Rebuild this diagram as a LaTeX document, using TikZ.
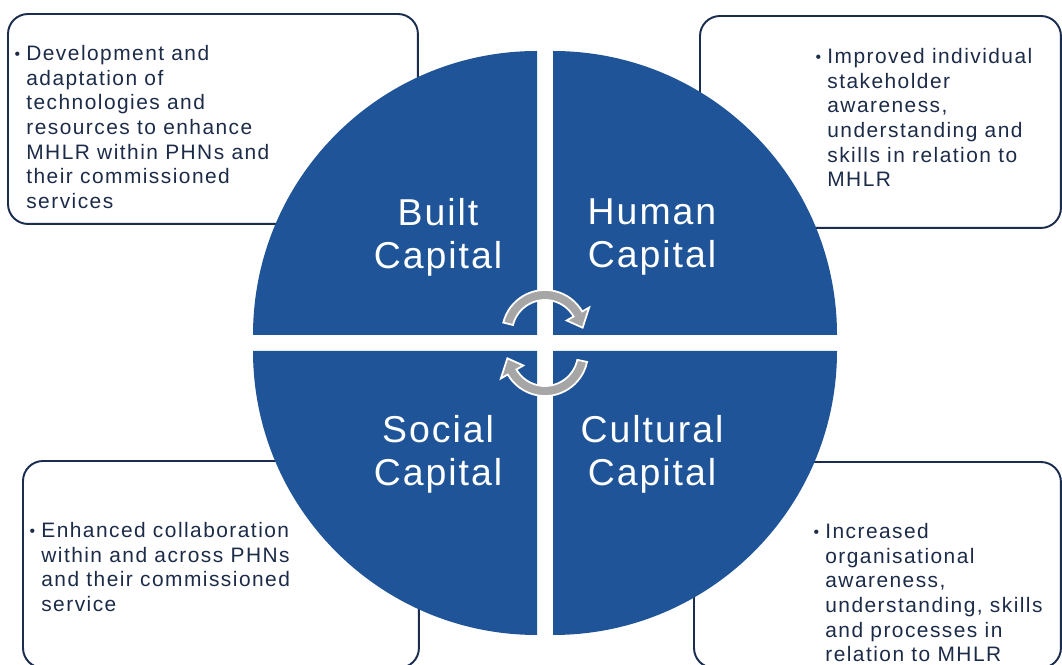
\documentclass[tikz,border=0pt]{standalone}
\usepackage{fontspec}
\setmainfont{Liberation Sans}
\newfontfamily\bodyfont[LetterSpace=7]{Liberation Sans}
\newfontfamily\titlefont[LetterSpace=5.3]{Liberation Sans}
\usepackage{tikz}

\definecolor{capblue}{RGB}{31,85,152}
\definecolor{arrowgray}{RGB}{166,166,166}
\definecolor{boxnavy}{RGB}{27,45,78}
\definecolor{textnavy}{RGB}{28,43,72}

% marcador das listas
\newcommand{\bul}{\llap{\raisebox{0.8pt}{\fontsize{9}{9}\selectfont\textbullet}\hspace{3.5pt}}}

\tikzset{
  outbox/.style={draw=boxnavy, line width=1.1pt, rounded corners=0.4cm, fill=white,
    anchor=north west, outer sep=0pt, inner sep=0pt},
  outtext/.style={anchor=north west, inner sep=0pt, align=left, text=textnavy,
    font=\bodyfont\fontsize{11.9}{14.05}\selectfont},
  captitle/.style={inner sep=0pt, align=center, text=white,
    font=\titlefont\fontsize{21.3}{24.6}\selectfont},
  quadrant/.style={fill=capblue},
  cyclearrow/.style={fill=arrowgray, draw=white, line width=1pt}
}

\begin{document}
\begin{tikzpicture}[x=0.02cm, y=0.02cm]
        \useasboundingbox (0,0) rectangle (1062,-665);

        % Caixas de resultados
        \node[outbox, minimum width=8.2cm, minimum height=4.2cm] (builtbox) at (8,-14) {};
        \node[outbox, minimum width=7.22cm, minimum height=4.24cm] (humanbox) at (700,-16) {};
        \node[outbox, minimum width=7.92cm, minimum height=4.14cm] (socialbox) at (23,-461) {};
        \node[outbox, minimum width=7.34cm, minimum height=4.12cm] (culturalbox) at (694,-462) {};

        % Textos das caixas
        \node[outtext] (builttext) at (26,-45) {\bul Development and\\adaptation of\\technologies and\\resources to enhance\\MHLR within PHNs and\\their commissioned\\services};
        \node[outtext] (humantext) at (827,-48) {\bul Improved individual\\stakeholder\\awareness,\\understanding and\\skills in relation to\\MHLR};
        \node[outtext] (socialtext) at (41,-522) {\bul Enhanced collaboration\\within and across PHNs\\and their commissioned\\service};
        \node[outtext] (culturaltext) at (825,-523) {\bul Increased\\organisational\\awareness,\\understanding, skills\\and processes in\\relation to MHLR};

        % Quadrantes do circulo
        \fill[quadrant] (537,-335) -- ++(-284,0) arc (180:90:284) -- cycle;
        \fill[quadrant] (553,-335) -- ++(284,0) arc (0:90:284) -- cycle;
        \fill[quadrant] (537,-351) -- ++(-284,0) arc (180:270:284) -- cycle;
        \fill[quadrant] (553,-351) -- ++(284,0) arc (0:-90:284) -- cycle;

        % Rotulos dos capitais
        \node[captitle] (builtlbl) at (438,-237) {Built\\Capital};
        \node[captitle] (humanlbl) at (652,-237) {Human\\Capital};
        \node[captitle] (sociallbl) at (438,-454) {Social\\Capital};
        \node[captitle] (culturallbl) at (652,-454) {Cultural\\Capital};

        % Setas circulares no centro
        \begin{scope}[shift={(545,-333)}]
            \filldraw[cyclearrow] (166:43) arc (166:30:43) -- (30:51) -- (8:38)
                -- (30:25) -- (30:33) arc (30:166:33) -- cycle;
        \end{scope}
        \begin{scope}[shift={(545,-353)}]
            \filldraw[cyclearrow] (-12:43) arc (-12:-150:43) -- (-150:51) -- (-172:38)
                -- (-150:25) -- (-150:33) arc (-150:-12:33) -- cycle;
        \end{scope}
\end{tikzpicture}
\end{document}
